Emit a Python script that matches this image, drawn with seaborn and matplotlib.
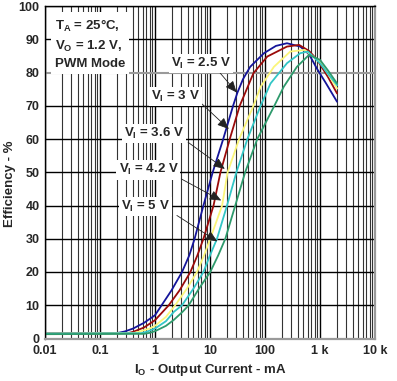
import matplotlib
matplotlib.use('Agg')
import matplotlib.pyplot as plt
import matplotlib.ticker as mticker
import seaborn as sns
import pandas as pd

# ---- data (I_O in mA, efficiency in %) ----
io_25 = [0.01, 0.2, 0.28, 0.4, 0.63, 1, 1.32, 2.0, 3.1, 4.2, 5.25, 7.6, 11.2, 17.4, 26.3, 31.6, 39.8, 53.7, 95.5, 158, 251, 437, 631, 891, 1259, 2042]
eff_25 = [1.5, 1.6, 2.1, 3.0, 4.7, 7.0, 10.0, 14.5, 20.0, 25.0, 30.0, 40.0, 50.0, 60.0, 70.0, 74.0, 78.0, 81.7, 85.8, 88.0, 88.8, 87.8, 85.5, 81.0, 77.0, 71.2]

io_30 = [0.01, 0.32, 0.4, 0.63, 1, 1.78, 2.8, 4.4, 5.9, 7.6, 11.6, 15.5, 22.9, 34.7, 40.7, 61.7, 110, 251, 417, 631, 891, 1413, 2042]
eff_30 = [1.5, 1.6, 2.0, 3.3, 5.5, 10.0, 14.5, 20.0, 25.0, 30.0, 40.0, 50.0, 60.0, 70.0, 72.7, 79.8, 84.8, 87.8, 88.3, 86.5, 83.8, 78.5, 73.7]

io_36 = [0.01, 0.4, 0.5, 0.8, 1, 1.58, 2.33, 3.8, 5.8, 7.8, 10.1, 16.6, 20.9, 33.9, 61.7, 83.2, 145, 288, 525, 1000, 1413, 2042]
eff_36 = [1.5, 1.6, 2.0, 3.0, 3.8, 6.5, 10.0, 15.0, 20.0, 25.0, 30.0, 40.0, 50.0, 60.0, 70.0, 75.7, 81.7, 86.3, 86.8, 83.2, 79.5, 75.2]

io_42 = [0.01, 0.56, 0.7, 1, 1.58, 2.2, 3.1, 5.0, 7.6, 10, 13.4, 20.4, 30.2, 47.9, 83.2, 126, 251, 437, 603, 1000, 1413, 2042]
eff_42 = [1.5, 1.6, 2.0, 3.0, 5.2, 8.0, 10.0, 15.0, 20.0, 25.0, 30.0, 40.0, 50.0, 60.0, 70.0, 76.7, 82.8, 85.8, 86.3, 82.8, 79.5, 76.2]

io_50 = [0.01, 0.63, 0.8, 1, 1.58, 2.2, 3.16, 4.1, 6.3, 10.1, 14.1, 19, 28.8, 43.6, 72.4, 148, 219, 380, 631, 1000, 1413, 2042]
eff_50 = [1.3, 1.4, 1.7, 2.2, 3.8, 5.6, 8.0, 10.0, 15.0, 20.0, 25.0, 30.0, 40.0, 50.0, 60.0, 70.0, 75.7, 81.7, 85.3, 83.8, 80.5, 76.7]

series = ['2.5 V', '3 V', '3.6 V', '4.2 V', '5 V']
colors = ['#14149a', '#9a0a0a', '#fbf57a', '#33c6c6', '#2e9a6c']

# label text position (mA, %), arrow tail and arrow tip (mA, %)
label_pos = [(6.9, 82.8), (2.33, 72.7), (0.975, 61.7), (0.76, 50.7), (0.66, 39.6)]
arrow_tail = [(15.0, 80.0), (7.2, 70.5), (4.0, 59.0), (3.0, 48.0), (2.5, 37.0)]
arrow_tip = [(30.5, 74.0), (22.0, 63.0), (18.6, 51.0), (16.0, 41.5), (13.6, 29.2)]

xticks = [0.01, 0.1, 1, 10, 100, 1000, 10000]
xtick_labels = ['0.01', '0.1', '1', '10', '100', '1 k', '10 k']
yticks = list(range(0, 101, 10))

frames = []
for name, xs, ys in zip(series, [io_25, io_30, io_36, io_42, io_50],
                        [eff_25, eff_30, eff_36, eff_42, eff_50]):
    frames.append(pd.DataFrame({'io': xs, 'eff': ys, 'vi': name}))
df = pd.concat(frames, ignore_index=True)

sns.set_style('white')
plt.rcParams['font.family'] = ['Liberation Sans', 'DejaVu Sans']
plt.rcParams['font.weight'] = 'bold'
plt.rcParams['mathtext.fontset'] = 'custom'
plt.rcParams['mathtext.rm'] = 'Liberation Sans:bold'
plt.rcParams['mathtext.bf'] = 'Liberation Sans:bold'
plt.rcParams['mathtext.it'] = 'Liberation Sans:bold'

fig = plt.figure(figsize=(3.97, 3.81), dpi=100)
ax = fig.add_axes([45 / 397, 1 - 338.5 / 381, 330 / 397, 332.5 / 381])

ax.set_xscale('log')
ax.set_xlim(0.01, 10000)
ax.set_ylim(0, 100)

# grid first so curves sit on top
ax.xaxis.set_major_locator(mticker.FixedLocator(xticks))
ax.xaxis.set_minor_locator(mticker.LogLocator(base=10, subs=range(2, 10), numticks=20))
ax.yaxis.set_major_locator(mticker.FixedLocator(yticks))
ax.grid(which='major', axis='both', color='black', lw=1.0)
ax.grid(which='minor', axis='x', color='#333333', lw=0.8)
ax.set_axisbelow(True)
for gl, v in zip(ax.get_ygridlines(), yticks):
    if v == 80:
        gl.set_color('#9a9a9a')
        gl.set_linewidth(1.5)

sns.lineplot(data=df, x='io', y='eff', hue='vi', palette=dict(zip(series, colors)),
             linewidth=1.3, legend=False, ax=ax, sort=False, estimator=None)

ax.set_xticklabels(xtick_labels)
ax.tick_params(axis='both', which='both', length=0, labelsize=9)
ax.tick_params(axis='x', pad=5)
ax.tick_params(axis='y', pad=4)
for lab in ax.get_xticklabels() + ax.get_yticklabels():
    lab.set_fontweight('bold')

for side in ['top', 'left']:
    ax.spines[side].set_color('black')
    ax.spines[side].set_linewidth(1.0)
for side in ['right', 'bottom']:
    ax.spines[side].set_color('#9a9a9a')
    ax.spines[side].set_linewidth(1.6)

ax.set_xlabel(r'$\mathbf{I_O}$ - Output Current - mA', fontsize=9.5, fontweight='bold', labelpad=3)
ax.set_ylabel('Efficiency - %', fontsize=9.5, fontweight='bold')
ax.yaxis.set_label_coords(-0.088, 0.465)

ax.text(0.03, 0.965, '$\\mathbf{T_A}$ = 25°C,\n$\\mathbf{V_O}$ = 1.2 V,\nPWM Mode',
        transform=ax.transAxes, ha='left', va='top', fontsize=9.5, fontweight='bold',
        linespacing=1.45, zorder=5,
        bbox=dict(facecolor='white', edgecolor='none', pad=3))

for name, (lx, ly), tip, tail in zip(series, label_pos, arrow_tip, arrow_tail):
    ax.annotate('', xy=tip, xytext=tail,
                arrowprops=dict(arrowstyle='-|>,head_length=0.7,head_width=0.3',
                                color='#222222', lw=0.6, shrinkA=0, shrinkB=0),
                zorder=6)
    ax.text(lx, ly, '$\\mathbf{V_I}$ = ' + name, ha='center', va='center',
            fontsize=9.5, fontweight='bold', zorder=7,
            bbox=dict(facecolor='white', edgecolor='none', pad=1.5))

fig.savefig('out.png', dpi=100)
